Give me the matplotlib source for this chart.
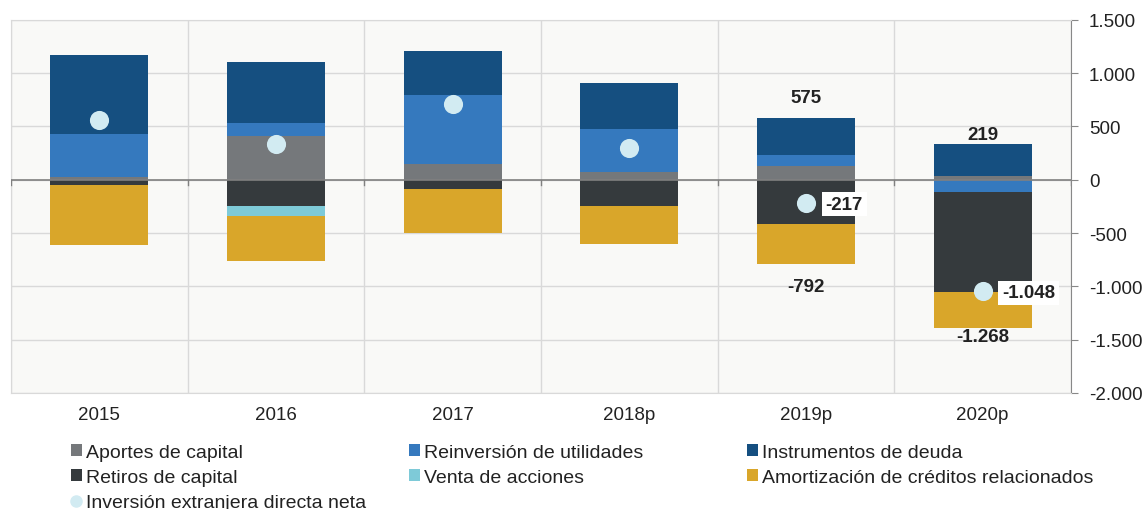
import numpy as np
import matplotlib.pyplot as plt
from matplotlib.lines import Line2D
from matplotlib.patches import Patch

plt.rcParams['font.family'] = ['Liberation Sans', 'DejaVu Sans']

years = ['2015', '2016', '2017', '2018p', '2019p', '2020p']
aportes = [22, 407, 150, 69, 128, 35]
reinversion = [403, 127, 644, 403, 101, -120]
deuda = [744, 569, 415, 431, 346, 304]
retiros = [-50, -247, -87, -247, -419, -935]
venta = [0, -90, 0, 0, 0, 0]
amortizacion = [-562, -428, -413, -356, -373, -333]
ied_neta = [557, 338, 709, 300, -217, -1048]

# etiquetas solo para los dos últimos años
pos_labels = [None, None, None, None, 575, 219]
neg_labels = [None, None, None, None, -792, -1268]

series = [
    ('Aportes de capital', aportes, '#75787B'),
    ('Reinversión de utilidades', reinversion, '#3579BE'),
    ('Instrumentos de deuda', deuda, '#154F80'),
    ('Retiros de capital', retiros, '#353A3D'),
    ('Venta de acciones', venta, '#7ECAD8'),
    ('Amortización de créditos relacionados', amortizacion, '#D9A62A'),
]
dot_color = '#D2EBF2'


def fmt(v):
    return f"{v:,.0f}".replace(',', '.')


fig = plt.figure(figsize=(11.44, 5.10), dpi=100)
ax = fig.add_axes([11 / 1144, 1 - 394 / 510, 1060 / 1144, (394 - 20.7) / 510])
ax.set_facecolor('#F9F9F7')

x = np.arange(len(years))
pos_bottom = np.zeros(len(years))
neg_bottom = np.zeros(len(years))
handles = {}
for name, vals, color in series:
    vals = np.array(vals, dtype=float)
    bottoms = np.where(vals >= 0, pos_bottom, neg_bottom)
    ax.bar(x, vals, 0.555, bottom=bottoms, color=color, zorder=3)
    pos_bottom += np.where(vals > 0, vals, 0)
    neg_bottom += np.where(vals < 0, vals, 0)
    handles[name] = Patch(facecolor=color)

ax.scatter(x, ied_neta, s=190, color=dot_color, zorder=5, linewidths=0)

for i in range(len(years)):
    if pos_labels[i] is not None:
        ax.text(x[i], pos_labels[i] + 200, fmt(pos_labels[i]), ha='center', va='center',
                fontsize=13.5, fontweight='bold', color='#222222', zorder=6)
        ax.text(x[i], neg_labels[i] - 205, fmt(neg_labels[i]), ha='center', va='center',
                fontsize=13.5, fontweight='bold', color='#222222', zorder=6)
        ax.annotate(fmt(ied_neta[i]), (x[i], ied_neta[i]), xytext=(14, -1),
                    textcoords='offset points', ha='left', va='center',
                    fontsize=13.5, fontweight='bold', color='#222222', zorder=6,
                    bbox=dict(boxstyle='square,pad=0.2', fc='white', ec='none'))

ax.set_xlim(-0.5, len(years) - 0.5)
ax.set_ylim(-2000, 1500)
ax.set_yticks(np.arange(-2000, 1501, 500))
ax.set_yticklabels([fmt(v) for v in np.arange(-2000, 1501, 500)])
ax.yaxis.tick_right()
ax.tick_params(axis='y', length=5, color='#888888', labelsize=13.5, labelcolor='#222222', pad=8)
ax.set_xticks(x)
ax.set_xticklabels(years)
ax.tick_params(axis='x', length=0, labelsize=13.5, labelcolor='#222222', pad=9)

ax.set_xticks(np.arange(-0.5, len(years), 1), minor=True)
ax.tick_params(axis='x', which='minor', length=0)
ax.grid(True, which='minor', axis='x', color='#D9D9D9', lw=1, zorder=0)
ax.grid(True, which='major', axis='y', color='#D9D9D9', lw=1, zorder=0)
ax.axhline(0, color='#808080', lw=1.2, zorder=4)
for b in np.arange(-0.5, len(years), 1):
    ax.plot([b, b], [0, -50], color='#808080', lw=1, zorder=4)

for side in ['left', 'top', 'bottom']:
    ax.spines[side].set_color('#D9D9D9')
ax.spines['right'].set_color('#888888')

cols = [
    ['Aportes de capital', 'Retiros de capital', 'Inversión extranjera directa neta'],
    ['Reinversión de utilidades', 'Venta de acciones'],
    ['Instrumentos de deuda', 'Amortización de créditos relacionados'],
]
handles['Inversión extranjera directa neta'] = Line2D([], [], marker='o', ls='none',
                                                       markersize=8, color=dot_color)
col_x = [71 / 1144, 409 / 1144, 747 / 1144]
for cx, names in zip(col_x, cols):
    fig.legend([handles[n] for n in names], names, loc='upper left',
               bbox_to_anchor=(cx, 1 - 445 / 510), frameon=False, fontsize=14,
               handlelength=0.55, handleheight=0.55, handletextpad=0.2,
               labelspacing=0.42, borderpad=0, borderaxespad=0, labelcolor='#222222')

fig.savefig('out.png', dpi=100)
